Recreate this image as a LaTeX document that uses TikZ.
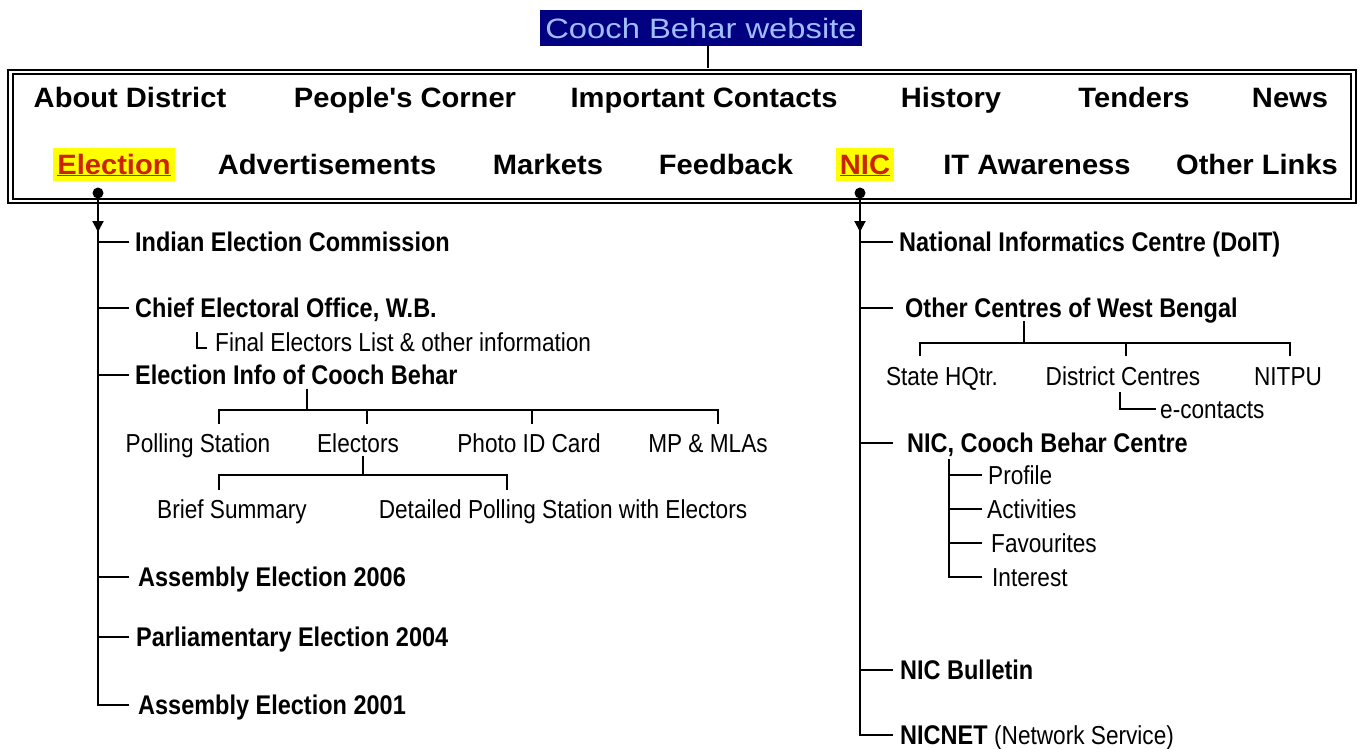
\documentclass[tikz,border=0pt]{standalone}
\usepackage{fontspec}
\setmainfont{Liberation Sans}
\newfontfamily\titlefont[FakeStretch=1.17]{Liberation Sans}
\newfontfamily\menufont[FakeStretch=1.04]{Liberation Sans}
\newfontfamily\treefont[FakeStretch=0.87]{Liberation Sans}
\usetikzlibrary{positioning}
\usetikzlibrary{arrows.meta}
\usetikzlibrary{calc}
\definecolor{navy}{RGB}{0,0,128}
\definecolor{paleblue}{RGB}{160,190,255}
\definecolor{hilite}{RGB}{255,255,0}
\definecolor{linkred}{RGB}{204,34,0}
\tikzset{>=latex}
\tikzstyle{titlenode}=[fill=navy,text=paleblue,font=\titlefont\fontsize{28}{30}\selectfont,minimum width=322pt,minimum height=36pt,inner sep=0pt]
\tikzstyle{menuframe}=[draw=black,double=white,double distance=2.5pt,line width=1.8pt,minimum width=1343pt,minimum height=129pt,inner sep=0pt]
\tikzstyle{menuitem}=[font=\menufont\bfseries\fontsize{28}{30}\selectfont,text height=20pt,text depth=0pt,inner sep=3pt]
\tikzstyle{activeitem}=[menuitem,fill=hilite,text=linkred,inner xsep=4pt,minimum height=33pt]
\tikzstyle{dotnode}=[circle,fill=black,inner sep=0pt,minimum size=11pt]
\tikzstyle{mainbranch}=[anchor=west,font=\treefont\bfseries\fontsize{27}{29}\selectfont,text height=19pt,text depth=0pt,inner sep=4pt]
\tikzstyle{leaf}=[font=\treefont\fontsize{26}{28}\selectfont,text height=18pt,text depth=0pt,inner sep=4pt]
\tikzstyle{conn}=[line width=2pt,color=black]
\tikzstyle{thinconn}=[line width=1.3pt,color=black]
\tikzstyle{spinearo}=[conn,-{Triangle[width=11pt,length=11pt]}]

\begin{document}
\begin{tikzpicture}[x=1pt,y=-1pt]
	\useasboundingbox (0,0) rectangle (1363,748);

	% Menu
	\node[titlenode] (title) at (701,28) {Cooch Behar website};
	\node[menuframe] (menu) at (682,136.5) {};
	\draw[conn,shorten >=3.5pt] ([xshift=7pt]title.south) -- ([xshift=7pt]title.south |- menu.north);
	\node[menuitem] (about) at (130,97.5) {About District};
	\node[menuitem] (people) at (405,97.5) {People's Corner};
	\node[menuitem] (contacts) at (704,97.5) {Important Contacts};
	\node[menuitem] (history) at (951,97.5) {History};
	\node[menuitem] (tenders) at (1134,97.5) {Tenders};
	\node[menuitem] (news) at (1290,97.5) {News};
	\node[activeitem] (election) at (114,164) {\underline{Election}};
	\node[menuitem] (adverts) at (327,164) {Advertisements};
	\node[menuitem] (markets) at (548,164) {Markets};
	\node[menuitem] (feedback) at (726,164) {Feedback};
	\node[activeitem] (nic) at (865,164) {\underline{NIC}};
	\node[menuitem] (itaware) at (1037,164) {IT Awareness};
	\node[menuitem] (otherlinks) at (1257,164) {Other Links};

	% Election
	\node[dotnode] (eldot) at (98,193) {};
	\node[mainbranch] (iec) at (131,242) {Indian Election Commission};
	\node[mainbranch] (ceo) at (131,308) {Chief Electoral Office, W.B.};
	\node[leaf,anchor=west] (fel) at (211,342) {Final Electors List \& other information};
	\node[mainbranch] (eio) at (131,375) {Election Info of Cooch Behar};
	\coordinate (eiobar) at (307,410);
	\coordinate (eiot1) at (219,410);
	\coordinate (eiot2) at (367,410);
	\coordinate (eiot3) at (532,410);
	\coordinate (eiot4) at (718,410);
	\node[leaf] (ps) at ($(eiot1)+(-21,33)$) {Polling Station};
	\node[leaf] (elec) at ($(eiot2)+(-9,33)$) {Electors};
	\node[leaf] (pid) at ($(eiot3)+(-3,33)$) {Photo ID Card};
	\node[leaf] (mp) at ($(eiot4)+(-10,33)$) {MP \& MLAs};
	\coordinate (elbar) at (363,475);
	\coordinate (elt1) at (219,475);
	\coordinate (elt2) at (507,475);
	\node[leaf] (bs) at ($(elt1)+(13,34)$) {Brief Summary};
	\node[leaf] (dps) at ($(elt2)+(56,34)$) {Detailed Polling Station with Electors};
	\node[mainbranch] (ae06) at (134,577) {Assembly Election 2006};
	\node[mainbranch] (pe04) at (132,637) {Parliamentary Election 2004};
	\node[mainbranch] (ae01) at (134,705) {Assembly Election 2001};
	\draw[conn] (eldot.center) -- (eldot |- ae01.west) -- ++(31,0);
	\draw[spinearo] (eldot.center) -- ++(0,39);
	\foreach \n in {iec,ceo,eio,ae06,pe04}
		\draw[conn] (eldot |- \n.west) -- ++(31,0);
	\draw[thinconn] (fel.west) ++(-14,-10) -- ++(0,16) -- ++(10,0);
	\draw[conn] (eio.south -| eiobar) -- (eiobar);
	\draw[conn] (eiot1) ++(0,14) -- (eiot1) -- (eiot4) -- ++(0,14);
	\draw[conn] (eiot2) -- ++(0,14);
	\draw[conn] (eiot3) -- ++(0,14);
	\draw[conn] (elec.south -| elbar) -- (elbar);
	\draw[conn] (elt1) ++(0,15) -- (elt1) -- (elt2) -- ++(0,15);

	% NIC
	\node[dotnode] (nicdot) at (860,193) {};
	\node[mainbranch] (nicd) at (895,242) {National Informatics Centre (DoIT)};
	\node[mainbranch] (ocwb) at (901,307.5) {Other Centres of West Bengal};
	\coordinate (ocbar) at (1024,343);
	\coordinate (oct1) at (920,343);
	\coordinate (oct2) at (1126,343);
	\coordinate (oct3) at (1290,343);
	\node[leaf] (shq) at ($(oct1)+(22,33)$) {State HQtr.};
	\node[leaf] (dc) at ($(oct2)+(-3,33)$) {District Centres};
	\node[leaf] (nitpu) at ($(oct3)+(-2,33)$) {NITPU};
	\node[leaf,anchor=west] (econ) at (1156,409) {e-contacts};
	\node[mainbranch] (nccb) at (903,443) {NIC, Cooch Behar Centre};
	\coordinate (nctop) at (949,459);
	\node[leaf,anchor=west] (prof) at (984,475) {Profile};
	\node[leaf,anchor=west] (act) at (983,509) {Activities};
	\node[leaf,anchor=west] (fav) at (987,543) {Favourites};
	\node[leaf,anchor=west] (intr) at (988,577) {Interest};
	\node[mainbranch] (nicb) at (896,670) {NIC Bulletin};
	\node[mainbranch] (nicnet) at (896,735) {NICNET {\mdseries\fontsize{26}{28}\selectfont (Network Service)}};
	\draw[conn] (nicdot.center) -- (nicdot |- nicnet.west) -- ++(33,0);
	\draw[spinearo] (nicdot.center) -- ++(0,39);
	\foreach \n in {nicd,ocwb,nccb,nicb}
		\draw[conn] (nicdot |- \n.west) -- ++(33,0);
	\draw[conn] (ocwb.south -| ocbar) -- (ocbar);
	\draw[conn] (oct1) ++(0,13) -- (oct1) -- (oct3) -- ++(0,13);
	\draw[conn] (oct2) -- ++(0,13);
	\draw[conn] ([xshift=-3pt,yshift=-3pt]dc.south) |- (econ.west);
	\draw[conn] (nctop) |- ([xshift=-6pt]intr.west);
	\foreach \n in {prof,act,fav}
		\draw[conn] (nctop |- \n.west) -- ++(33,0);
\end{tikzpicture}
\end{document}
